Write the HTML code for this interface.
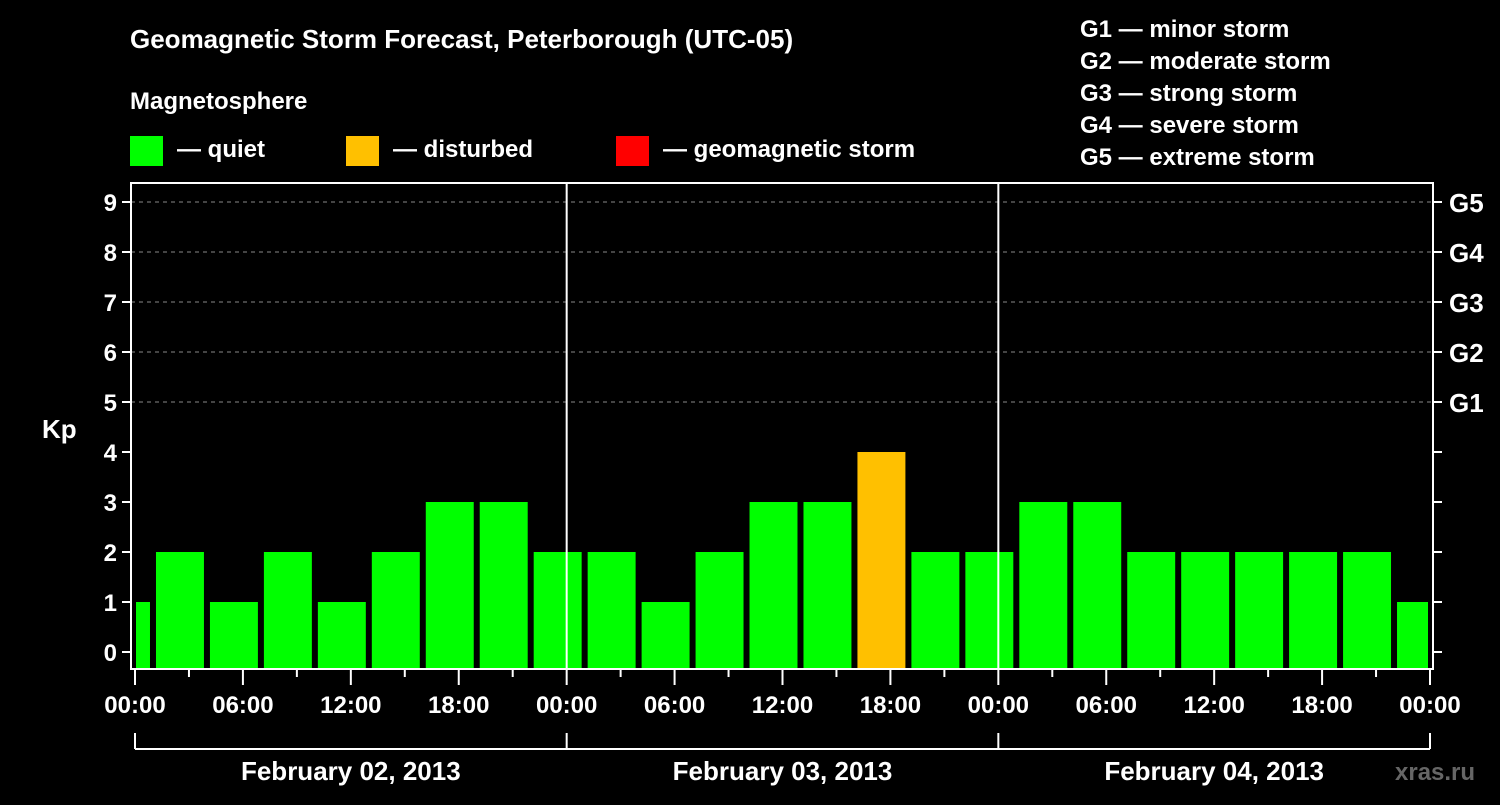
<!DOCTYPE html>
<html><head><meta charset="utf-8"><style>
body{margin:0;background:#000;width:1500px;height:800px;overflow:hidden}
svg text{font-family:"Liberation Sans",sans-serif;font-weight:bold;fill:#fff}
</style></head><body>
<svg id="c" width="1500" height="800">
<rect width="1500" height="800" fill="#000"/>
<text x="130" y="48" font-size="26">Geomagnetic Storm Forecast, Peterborough (UTC-05)</text>
<text x="130" y="109" font-size="24">Magnetosphere</text>
<g><rect x="130" y="136" width="33" height="30" fill="#00ff00"/><text x="177" y="157" font-size="24">— quiet</text></g>
<g><rect x="346" y="136" width="33" height="30" fill="#ffc000"/><text x="393" y="157" font-size="24">— disturbed</text></g>
<g><rect x="616" y="136" width="33" height="30" fill="#ff0000"/><text x="663" y="157" font-size="24">— geomagnetic storm</text></g>
<g font-size="24">
<text x="1080" y="37">G1 — minor storm</text>
<text x="1080" y="69">G2 — moderate storm</text>
<text x="1080" y="101">G3 — strong storm</text>
<text x="1080" y="133">G4 — severe storm</text>
<text x="1080" y="165">G5 — extreme storm</text>
</g>
<text x="42" y="438" font-size="26">Kp</text>
<text x="1395" y="780" font-size="24" fill="#555" style="fill:#666">xras.ru</text>
<g id="plot"></g>
</svg>
<script>
const kpValues=[1,2,1,2,1,2,3,3,2,2,1,2,3,3,4,2,2,3,3,2,2,2,2,2,1];
const startHours=[-2,1,4,7,10,13,16,19,22,25,28,31,34,37,40,43,46,49,52,55,58,61,64,67,70];
const yTicks=[0,1,2,3,4,5,6,7,8,9];
const gLabels=["G1","G2","G3","G4","G5"];
const xTickLabels=["00:00","06:00","12:00","18:00","00:00","06:00","12:00","18:00","00:00","06:00","12:00","18:00","00:00"];
const dayLabels=["February 02, 2013","February 03, 2013","February 04, 2013"];
const NS="http://www.w3.org/2000/svg";
const g=document.getElementById('plot');
const X0=135,PXH=1295/72,Y0=652,PXK=50,TOP=183,BOT=669,L=131,R=1433;
const x=h=>X0+h*PXH, y=k=>Y0-k*PXK;
function el(t,a,p){const e=document.createElementNS(NS,t);for(const k in a)e.setAttribute(k,a[k]);(p||g).appendChild(e);return e;}
// grid
for(let k=5;k<=9;k++){const l=el('line',{x1:L,x2:R,y1:y(k),y2:y(k),stroke:'#888','stroke-dasharray':'4,4'});

}
// bars
kpValues.forEach((v,i)=>{let s=Math.max(0,startHours[i]),e=Math.min(72,startHours[i]+3);
let x1=x(s)+(startHours[i]<0?1:3),x2=x(e)-(startHours[i]+3>72?2:3);
const col=v>=5?'#ff0000':v>=4?'#ffc000':'#00ff00';
const r=el('rect',{x:x1,y:y(v),width:x2-x1,height:BOT-1-y(v),fill:col});

});
// day lines
[24,48].forEach(h=>{const l=el('line',{x1:x(h),x2:x(h),y1:TOP,y2:BOT,stroke:'#fff','stroke-width':2});

});
// frame
const f=el('rect',{x:L,y:TOP,width:R-L,height:BOT-TOP,fill:'none',stroke:'#fff','stroke-width':2});


yTicks.forEach(k=>{el('line',{x1:L-9,x2:L,y1:y(k),y2:y(k),stroke:'#fff','stroke-width':2});
el('line',{x1:R,x2:R+9,y1:y(k),y2:y(k),stroke:'#fff','stroke-width':2});
const t=el('text',{x:L-14,y:y(k)+9,'font-size':24,'text-anchor':'end'});t.textContent=k;

});
gLabels.forEach((s,i)=>{const t=el('text',{x:1449,y:y(5+i)+10,'font-size':26});t.textContent=s;

});
for(let h=0;h<=72;h+=3){el('line',{x1:x(h),x2:x(h),y1:BOT,y2:BOT+(h%6?8:16),stroke:'#fff','stroke-width':2});}
xTickLabels.forEach((s,i)=>{const t=el('text',{x:x(i*6),y:713,'font-size':24,'text-anchor':'middle'});t.textContent=s;

});
el('line',{x1:x(0),x2:x(72),y1:749,y2:749,stroke:'#fff','stroke-width':2});
[0,24,48,72].forEach(h=>el('line',{x1:x(h),x2:x(h),y1:733,y2:749,stroke:'#fff','stroke-width':2}));
dayLabels.forEach((s,i)=>{const t=el('text',{x:x(i*24+12),y:780,'font-size':26,'text-anchor':'middle'});t.textContent=s;

});
</script>
</body></html>
